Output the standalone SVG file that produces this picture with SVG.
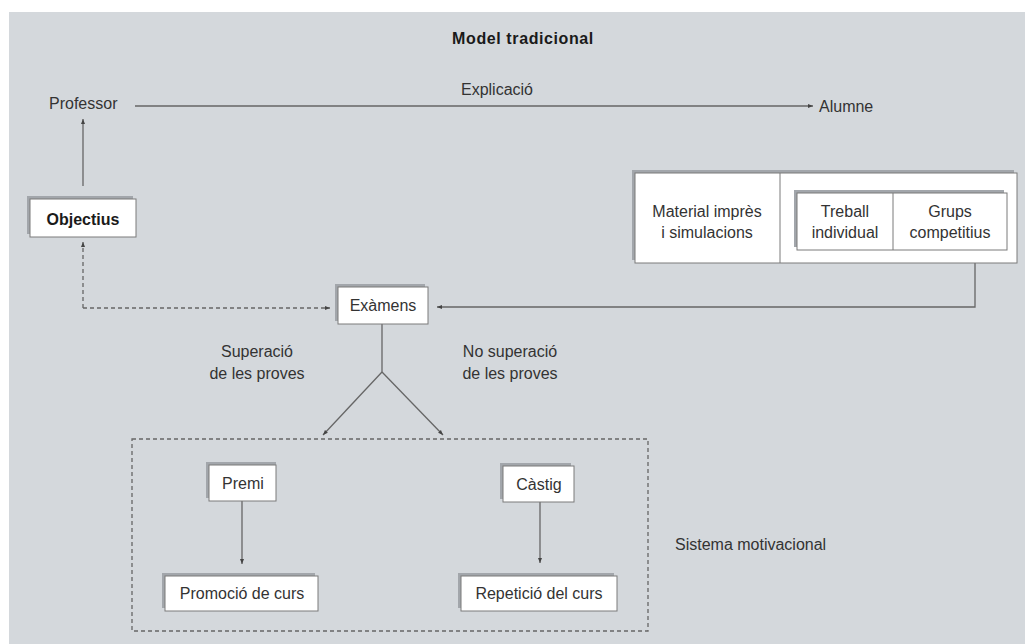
<svg xmlns="http://www.w3.org/2000/svg" width="1025" height="644" viewBox="0 0 1025 644">
<defs>
<style>
text{font-family:"Liberation Sans",Arial,sans-serif;font-size:16px;fill:#333}
.c{text-anchor:middle}
.b{font-weight:bold;fill:#1a1a1a}
.sh{fill:#a2a6ab}
.bx{fill:#fff;stroke:#7a7a7a;stroke-width:1}
.ln{fill:none;stroke:#666;stroke-width:1.3}
.ds{fill:none;stroke:#666;stroke-width:1.3;stroke-dasharray:4 3}
</style>
<marker id="ah" viewBox="0 0 10 10" refX="10" refY="5" markerWidth="5" markerHeight="5" orient="auto" markerUnits="userSpaceOnUse">
<path d="M0,1 L10,5 L0,9 z" fill="#444"/>
</marker>
</defs>
<rect x="0" y="0" width="1025" height="644" fill="#fff"/>
<rect x="9" y="12" width="1016" height="632" fill="#d4d8dc"/>

<text class="c b" x="523" y="44" letter-spacing="0.6" font-size="16">Model tradicional</text>

<g id="connectors">
<line class="ln" x1="135" y1="106" x2="813" y2="106" marker-end="url(#ah)"/>
<line class="ln" x1="83" y1="186" x2="83" y2="119" marker-end="url(#ah)"/>
<polyline class="ds" points="83,308 83,242" marker-end="url(#ah)"/>
<polyline class="ds" points="83,308 330,308" marker-end="url(#ah)"/>
<polyline class="ln" points="975,263 975,307 437,307" marker-end="url(#ah)"/>
<line class="ln" x1="382" y1="324" x2="382" y2="372"/>
<line class="ln" x1="382" y1="372" x2="323" y2="435" marker-end="url(#ah)"/>
<line class="ln" x1="382" y1="372" x2="443" y2="435" marker-end="url(#ah)"/>
<line class="ln" x1="242" y1="501" x2="242" y2="564" marker-end="url(#ah)"/>
<line class="ln" x1="540" y1="502" x2="540" y2="563" marker-end="url(#ah)"/>
</g>

<g id="professor"><text x="49" y="109">Professor</text></g>
<g id="explicacio"><text class="c" x="497" y="95">Explicació</text></g>
<g id="alumne"><text x="819" y="112">Alumne</text></g>

<g id="objectius">
<rect class="sh" x="27" y="196" width="106" height="38"/>
<rect class="bx" x="30" y="199" width="106" height="38"/>
<text class="c b" x="83" y="225" font-size="17">Objectius</text>
</g>

<g id="recursos">
<rect class="sh" x="632" y="170" width="382" height="90"/>
<rect class="bx" x="635" y="173" width="382" height="90"/>
<line x1="780" y1="173" x2="780" y2="263" stroke="#7a7a7a"/>
<text class="c" x="707" y="217">Material imprès</text>
<text class="c" x="707" y="238">i simulacions</text>
<g id="agrupaments">
<rect class="sh" x="794" y="190" width="210" height="57"/>
<rect class="bx" x="797" y="193" width="210" height="57"/>
<line x1="893" y1="193" x2="893" y2="250" stroke="#7a7a7a"/>
<text class="c" x="845" y="217">Treball</text>
<text class="c" x="845" y="238">individual</text>
<text class="c" x="950" y="217">Grups</text>
<text class="c" x="950" y="238">competitius</text>
</g>
</g>

<g id="examens">
<rect class="sh" x="335" y="284" width="90" height="37"/>
<rect class="bx" x="338" y="287" width="90" height="37"/>
<text class="c" x="383" y="311">Exàmens</text>
</g>

<g id="superacio">
<text class="c" x="257" y="357">Superació</text>
<text class="c" x="257" y="379">de les proves</text>
</g>
<g id="nosuperacio">
<text class="c" x="510" y="357">No superació</text>
<text class="c" x="510" y="379">de les proves</text>
</g>

<g id="sistema">
<rect class="ds" x="132" y="439" width="516" height="192"/>
<text x="675" y="550">Sistema motivacional</text>
</g>

<g id="premi">
<rect class="sh" x="206" y="462" width="70" height="36"/>
<rect class="bx" x="209" y="465" width="67" height="36"/>
<text class="c" x="243" y="489">Premi</text>
</g>
<g id="castig">
<rect class="sh" x="500" y="463" width="71" height="36"/>
<rect class="bx" x="503" y="466" width="71" height="36"/>
<text class="c" x="539" y="490">Càstig</text>
</g>
<g id="promocio">
<rect class="sh" x="162" y="573" width="153" height="35"/>
<rect class="bx" x="165" y="576" width="153" height="35"/>
<text class="c" x="242" y="599">Promoció de curs</text>
</g>
<g id="repeticio">
<rect class="sh" x="458" y="573" width="156" height="35"/>
<rect class="bx" x="461" y="576" width="156" height="35"/>
<text class="c" x="539" y="599">Repetició del curs</text>
</g>
</svg>
